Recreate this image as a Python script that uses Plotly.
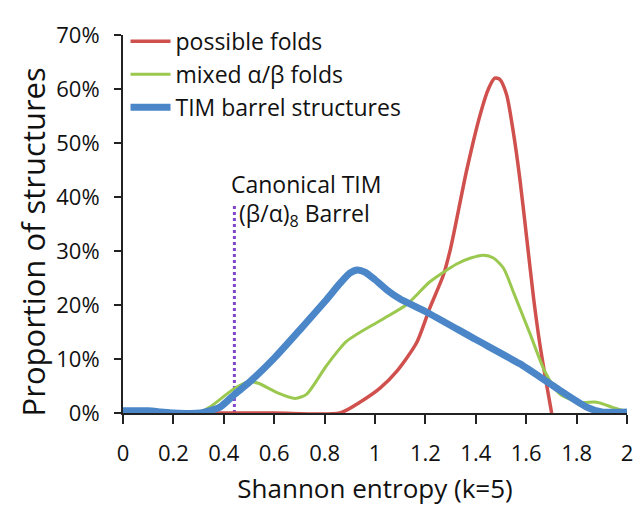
import plotly.graph_objects as go

# ---- data ----
red_x = [0.36, 0.6, 0.86, 0.94, 1.02, 1.086, 1.165, 1.218, 1.271, 1.30, 1.364, 1.417, 1.45, 1.475, 1.495, 1.522, 1.549, 1.575, 1.603, 1.63, 1.655, 1.68, 1.701]
red_y = [0, 0, 0, 2.0, 4.6, 7.7, 13, 19.5, 25.5, 30.5, 45, 55.2, 60.0, 62.0, 61.8, 59.0, 52.0, 43.3, 32.0, 21.0, 12.5, 5.5, 0]

green_x = [0.3, 0.345, 0.438, 0.497, 0.537, 0.61, 0.683, 0.729, 0.808, 0.888, 1.02, 1.126, 1.218, 1.324, 1.38, 1.43, 1.47, 1.51, 1.55, 1.615, 1.675, 1.734, 1.813, 1.88, 1.946, 2.0]
green_y = [0, 1.1, 4.4, 5.8, 5.5, 3.8, 2.7, 3.5, 8.8, 13.3, 17.1, 20.1, 24.3, 27.6, 28.7, 29.2, 28.7, 26.8, 22.3, 14.7, 7.6, 3.5, 2.0, 2.0, 1.0, 0.3]

blue_x = [0, 0.1, 0.15, 0.2, 0.306, 0.385, 0.444, 0.504, 0.603, 0.702, 0.802, 0.861, 0.90, 0.93, 0.96, 1.0, 1.05, 1.1, 1.2, 1.4, 1.575, 1.708, 1.84, 1.9, 2.0]
blue_y = [0.4, 0.4, 0.2, 0, 0, 1.1, 3.5, 5.8, 10.3, 15.4, 20.7, 24.0, 25.9, 26.5, 26.1, 24.7, 22.7, 21.1, 18.8, 13.6, 9.1, 5.0, 1.1, 0.2, 0.2]

marker_x = [0.442, 0.442]
marker_y = [0, 38.5]

x_ticks = [0, 0.2, 0.4, 0.6, 0.8, 1.0, 1.2, 1.4, 1.6, 1.8, 2.0]
x_tick_text = ["0", "0.2", "0.4", "0.6", "0.8", "1", "1.2", "1.4", "1.6", "1.8", "2"]
y_ticks = [0, 10, 20, 30, 40, 50, 60, 70]
y_tick_text = ["0%", "10%", "20%", "30%", "40%", "50%", "60%", "70%"]

FONT = "Open Sans"

fig = go.Figure()
fig.add_trace(go.Scatter(x=marker_x, y=marker_y, mode="lines", showlegend=False,
                         line=dict(color="#8048C8", width=3, dash="dot")))
fig.add_trace(go.Scatter(x=red_x, y=red_y, mode="lines", name="possible folds",
                         line=dict(color="#D0504D", width=3.5, shape="spline", smoothing=0.7)))
fig.add_trace(go.Scatter(x=green_x, y=green_y, mode="lines", name="mixed α/β folds",
                         line=dict(color="#9BC84F", width=3, shape="spline", smoothing=0.7)))
fig.add_trace(go.Scatter(x=blue_x, y=blue_y, mode="lines", name="TIM barrel structures",
                         line=dict(color="#4A86C8", width=7, shape="spline", smoothing=0.6)))

fig.add_annotation(x=0.42, y=42.5, xref="x", yref="y", text="Canonical TIM",
                   showarrow=False, xanchor="left", yanchor="middle",
                   font=dict(family=FONT, size=23, color="#111"))
fig.add_annotation(x=0.452, y=36.8, xref="x", yref="y", text="(β/α)<sub>8</sub> Barrel",
                   showarrow=False, xanchor="left", yanchor="middle",
                   font=dict(family=FONT, size=23, color="#111"))
# y-axis title (placed as rotated text to match the reference position)
fig.add_annotation(x=-0.178, y=0.452, xref="paper", yref="paper", text="Proportion of structures",
                   showarrow=False, xanchor="center", yanchor="middle", textangle=-90,
                   font=dict(family=FONT, size=31, color="#111"))

fig.update_layout(
    width=644, height=509,
    margin=dict(l=115, r=25, t=12, b=104),
    paper_bgcolor="white", plot_bgcolor="white",
    font=dict(family=FONT, size=22, color="#111"),
    legend=dict(x=0.005, y=1.04, xanchor="left", yanchor="top",
                bgcolor="rgba(0,0,0,0)", font=dict(family=FONT, size=23),
                itemwidth=40, tracegroupgap=0),
    xaxis=dict(range=[0, 2.0], tickvals=x_ticks, ticktext=x_tick_text,
               showgrid=False, zeroline=False, showline=True, linecolor="#222", linewidth=2,
               ticks="outside", ticklen=9, tickwidth=2, tickcolor="#222",
               ticklabelstandoff=11, automargin=False,
               tickfont=dict(family=FONT, size=22),
               title=dict(text="Shannon entropy (k=5)", font=dict(family=FONT, size=26), standoff=13)),
    yaxis=dict(range=[0, 70], tickvals=y_ticks, ticktext=y_tick_text,
               showgrid=False, zeroline=False, showline=True, linecolor="#222", linewidth=2,
               ticks="outside", ticklen=7, tickwidth=2, tickcolor="#222",
               ticklabelstandoff=10, automargin=False,
               tickfont=dict(family=FONT, size=22)),
)

fig.write_html("out.html")
